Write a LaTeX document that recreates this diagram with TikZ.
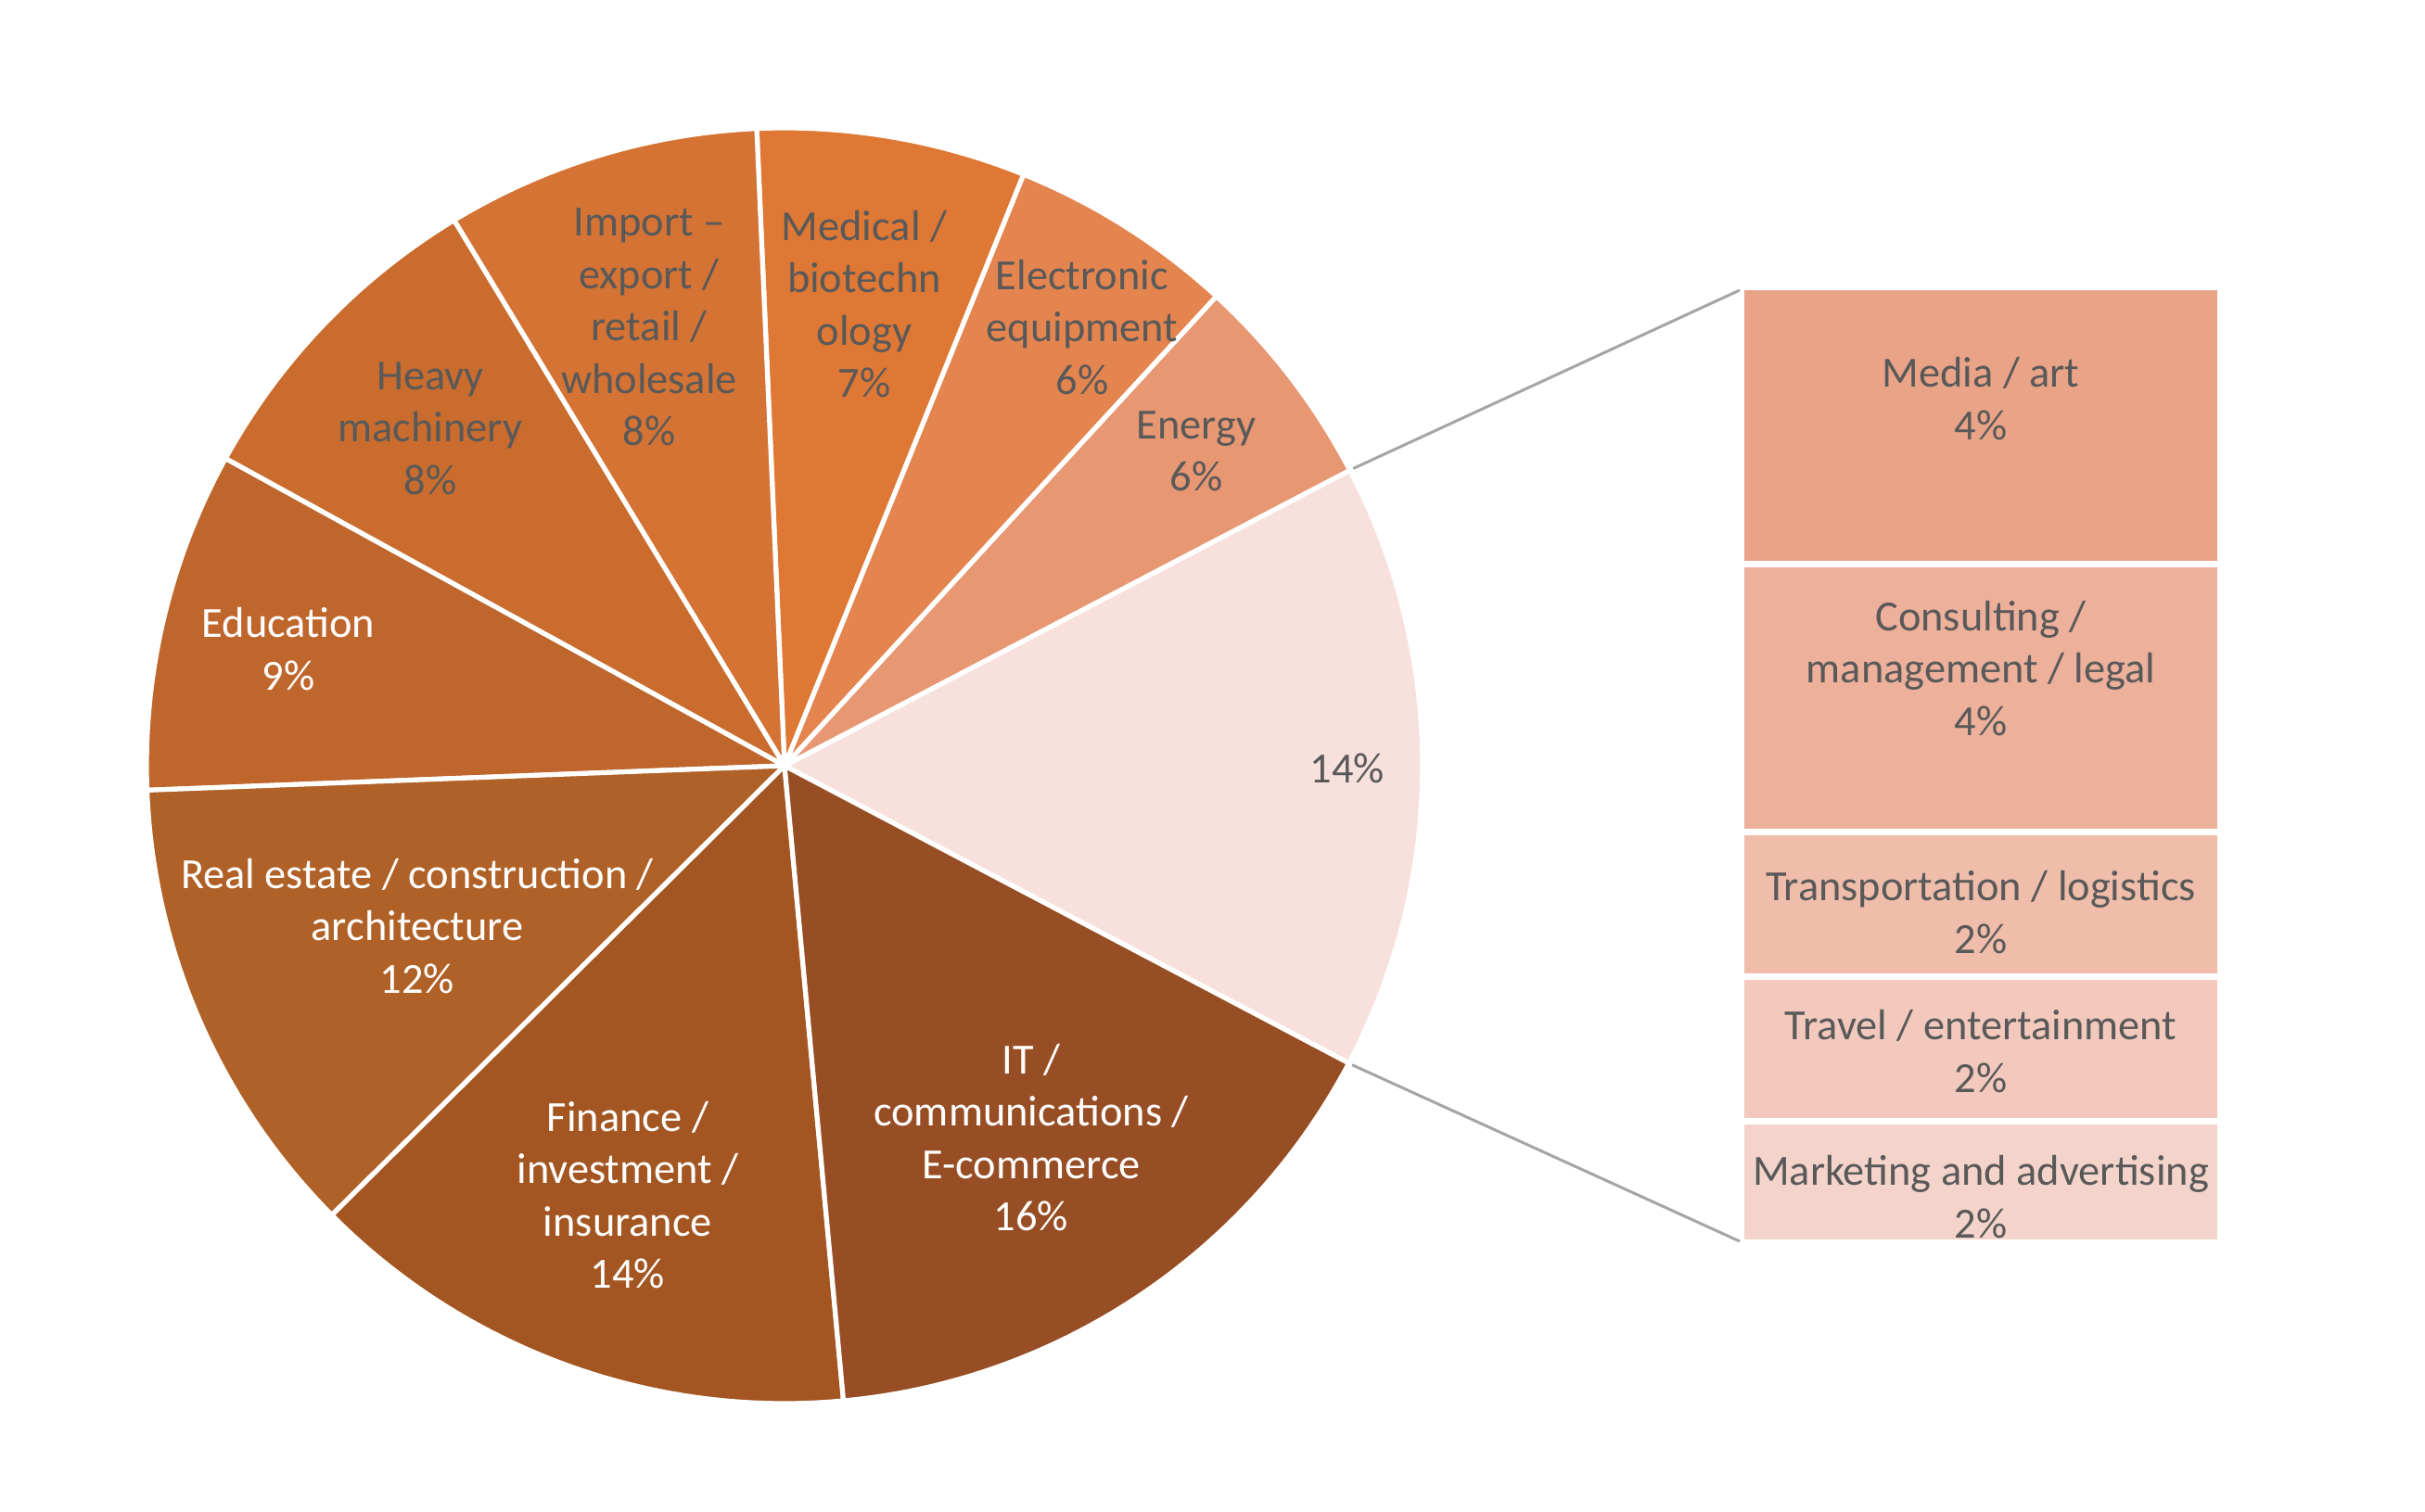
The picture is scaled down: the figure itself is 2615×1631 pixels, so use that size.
\documentclass[tikz,border=0pt]{standalone}
\usepackage{fontspec}
\setmainfont{Carlito}
\definecolor{cIT}{HTML}{974E24}
\definecolor{cFin}{HTML}{A35622}
\definecolor{cRE}{HTML}{B06127}
\definecolor{cEdu}{HTML}{BF662D}
\definecolor{cHeavy}{HTML}{C96C2E}
\definecolor{cImp}{HTML}{D47334}
\definecolor{cMed}{HTML}{DE7834}
\definecolor{cElec}{HTML}{E4844F}
\definecolor{cEnergy}{HTML}{E89773}
\definecolor{cOther}{HTML}{F8E1DC}
\definecolor{cMedia}{HTML}{E9A386}
\definecolor{cCons}{HTML}{ECB09B}
\definecolor{cTrans}{HTML}{EFBDAA}
\definecolor{cTravel}{HTML}{F2C9BC}
\definecolor{cMark}{HTML}{F4D4CA}
\definecolor{txtgray}{HTML}{595959}
\definecolor{conngray}{HTML}{A5A5A5}
\begin{document}
\begin{tikzpicture}[x=0.5pt,y=-0.5pt,
  lbl/.style={align=center, font=\fontsize{23.2}{28.3}\selectfont, inner sep=0pt, text=txtgray},
  wlbl/.style={lbl, text=white},
  slice/.style={draw=white, line width=2.6pt, line join=round},
  bx/.style={inner sep=0pt, draw=none, anchor=north west, minimum width=255pt},
  conn/.style={draw=conngray, line width=1.5pt}]
\useasboundingbox[fill=white] (0,0) rectangle (2615,1631);
\def\R{688}
\begin{scope}[shift={(846,826)}, yscale=-1]
  \path[slice, fill=cOther]  (0,0) -- (-27.8:\R) arc[start angle=-27.8, end angle=27.6, radius=\R] -- cycle;
  \path[slice, fill=cEnergy] (0,0) -- (27.6:\R) arc[start angle=27.6, end angle=47.4, radius=\R] -- cycle;
  \path[slice, fill=cElec]   (0,0) -- (47.4:\R) arc[start angle=47.4, end angle=68.0, radius=\R] -- cycle;
  \path[slice, fill=cMed]    (0,0) -- (68.0:\R) arc[start angle=68.0, end angle=92.5, radius=\R] -- cycle;
  \path[slice, fill=cImp]    (0,0) -- (92.5:\R) arc[start angle=92.5, end angle=121.2, radius=\R] -- cycle;
  \path[slice, fill=cHeavy]  (0,0) -- (121.2:\R) arc[start angle=121.2, end angle=151.2, radius=\R] -- cycle;
  \path[slice, fill=cEdu]    (0,0) -- (151.2:\R) arc[start angle=151.2, end angle=182.2, radius=\R] -- cycle;
  \path[slice, fill=cRE]     (0,0) -- (182.2:\R) arc[start angle=182.2, end angle=224.8, radius=\R] -- cycle;
  \path[slice, fill=cFin]    (0,0) -- (224.8:\R) arc[start angle=224.8, end angle=275.3, radius=\R] -- cycle;
  \path[slice, fill=cIT]     (0,0) -- (275.3:\R) arc[start angle=275.3, end angle=332.2, radius=\R] -- cycle;
  \coordinate (ptop) at (27.6:692);
  \coordinate (pbot) at (-27.8:692);
\end{scope}
% pie labels
\node[lbl]  (lOther)  at (1453,829) {14\%};
\node[lbl]  (lEnergy) at (1290,487) {Energy\\6\%};
\node[lbl]  (lElec)   at (1167,353) {Electronic\\equipment\\6\%};
\node[lbl]  (lMed)    at (932,328)  {Medical /\\biotechn\\ology\\7\%};
\node[lbl]  (lImp)    at (700,353)  {Import –\\export /\\retail /\\wholesale\\8\%};
\node[lbl]  (lHeavy)  at (464,462)  {Heavy\\machinery\\8\%};
\node[wlbl] (lEdu)    at (311,700)  {Education\\9\%};
\node[wlbl] (lRE)     at (450,999) {Real estate / construction /\\architecture\\12\%};
\node[wlbl] (lFin)    at (677,1289) {Finance /\\investment /\\insurance\\14\%};
\node[wlbl] (lIT)     at (1112,1227) {IT /\\communications /\\E-commerce\\16\%};
% bar boxes
\node[bx, fill=cMedia,  minimum height=146pt]  (bMedia)  at (1881,313)  {};
\node[bx, fill=cCons,   minimum height=141pt]  (bCons)   at (1881,612)  {};
\node[bx, fill=cTrans,  minimum height=74.5pt] (bTrans)  at (1881,901)  {};
\node[bx, fill=cTravel, minimum height=74.5pt] (bTravel) at (1881,1057) {};
\node[bx, fill=cMark,   minimum height=62pt]   (bMark)   at (1881,1213) {};
\node[lbl] (tMedia)  at (2136,430)  {Media / art\\4\%};
\node[lbl] (tCons)   at (2136,721)  {Consulting /\\management / legal\\4\%};
\node[lbl] (tTrans)  at (2136,984)  {Transportation / logistics\\2\%};
\node[lbl] (tTravel) at (2136,1134) {Travel / entertainment\\2\%};
\node[lbl] (tMark)   at (2136,1291) {Marketing and advertising\\2\%};
% connectors
\coordinate (ctop) at (1876,313);
\coordinate (cbot) at (1876,1339);
\draw[conn] (ptop) -- (ctop);
\draw[conn] (pbot) -- (cbot);
\end{tikzpicture}
\end{document}
